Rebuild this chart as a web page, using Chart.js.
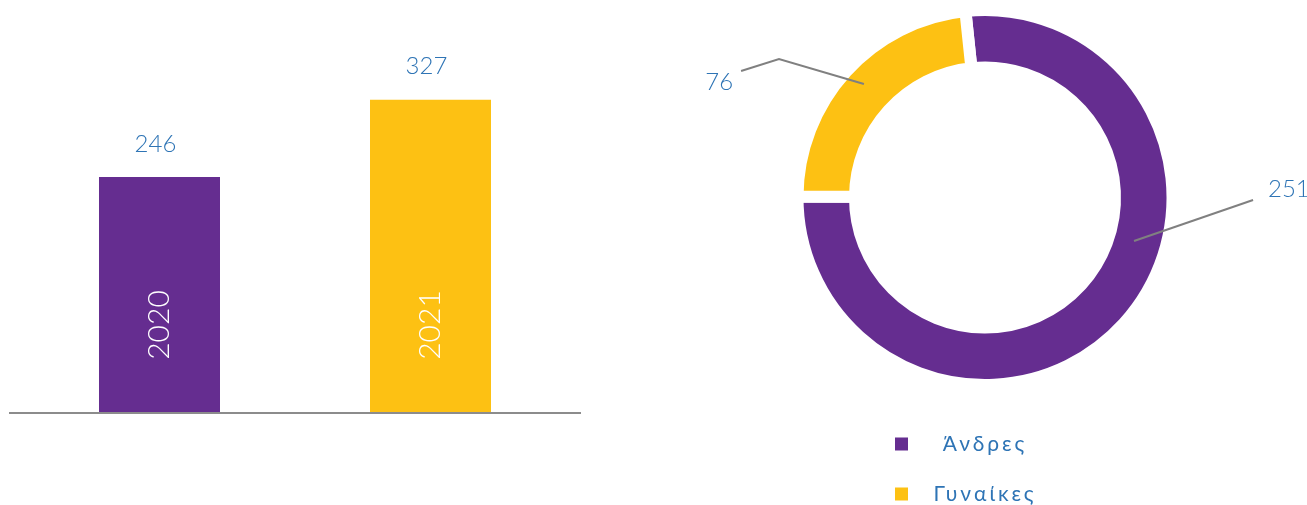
<!DOCTYPE html>
<html><head><meta charset="utf-8">
<script src="https://cdn.jsdelivr.net/npm/chart.js@4"></script>
<style>
html,body{margin:0;padding:0;background:#fff;width:1307px;height:505px;overflow:hidden}
#barWrap{position:absolute;left:0;top:0;width:600px;height:505px}
#pieWrap{position:absolute;left:600px;top:0;width:707px;height:505px}
</style></head><body>
<div id="barWrap"><canvas id="bar" width="600" height="505"></canvas></div>
<div id="pieWrap"><canvas id="pie" width="707" height="505"></canvas></div>
<script>
// ---- data ----
const years = ['2020', '2021'];
const employees = [246, 327];
const genders = ['Άνδρες', 'Γυναίκες'];
const genderCounts = [251, 76];

// ---- styles ----
const PURPLE = '#652D90';
const YELLOW = '#FDC113';
const BLUE = '#2E74B5';
const GREY = '#808080';
const FONT = "Lato, 'Noto Sans', sans-serif";

const barPlugin = {
  id: 'barLabels',
  afterDatasetsDraw(chart) {
    const ctx = chart.ctx;
    const a = chart.chartArea;
    const meta = chart.getDatasetMeta(0);
    ctx.save();
    ctx.strokeStyle = '#8c8c8c';
    ctx.lineWidth = 2;
    ctx.beginPath();
    ctx.moveTo(a.left - 15, a.bottom + 1);
    ctx.lineTo(a.right + 15, a.bottom + 1);
    ctx.stroke();
    meta.data.forEach((bar, i) => {
      ctx.fillStyle = BLUE;
      ctx.font = '300 24px ' + FONT;
      ctx.textAlign = 'center';
      ctx.textBaseline = 'middle';
      ctx.fillText(String(employees[i]), bar.x - 4, bar.y - 33);
      ctx.save();
      ctx.translate(bar.x, bar.base - 87);
      ctx.rotate(-Math.PI / 2);
      ctx.fillStyle = '#ffffff';
      ctx.font = '300 30px ' + FONT;
      ctx.fillText(years[i], 0, 0);
      ctx.restore();
    });
    ctx.restore();
  }
};

new Chart(document.getElementById('bar'), {
  type: 'bar',
  data: {
    labels: years,
    datasets: [{
      data: employees,
      backgroundColor: [PURPLE, YELLOW],
      borderWidth: 0,
      categoryPercentage: 1,
      barPercentage: 0.4465
    }]
  },
  options: {
    responsive: false,
    animation: false,
    devicePixelRatio: 1,
    layout: { padding: { left: 24, right: 34, top: 30, bottom: 93 } },
    scales: {
      x: { display: false },
      y: { display: false, min: 0, max: 400 }
    },
    plugins: { legend: { display: false }, tooltip: { enabled: false } }
  },
  plugins: [barPlugin]
});

const RING_BORDER = 12;
// leader-line geometry, in units of the visible outer radius, relative to the doughnut centre
const leaders = [
  { pts: [[0.821, 0.240], [1.477, 0.014]], label: [1.559, -0.047], align: 'left' },
  { pts: [[-0.667, -0.625], [-1.135, -0.763], [-1.344, -0.697]], label: [-1.388, -0.636], align: 'right' }
];

const piePlugin = {
  id: 'pieLabels',
  afterDraw(chart) {
    const ctx = chart.ctx;
    const meta = chart.getDatasetMeta(0);
    const arc0 = meta.data[0];
    const cx = arc0.x, cy = arc0.y;
    const R = arc0.outerRadius - RING_BORDER / 2;
    ctx.save();
    leaders.forEach((L, i) => {
      ctx.strokeStyle = GREY;
      ctx.lineWidth = 2;
      ctx.beginPath();
      L.pts.forEach((p, k) => {
        const x = cx + p[0] * R, y = cy + p[1] * R;
        if (k === 0) ctx.moveTo(x, y); else ctx.lineTo(x, y);
      });
      ctx.stroke();
      ctx.fillStyle = BLUE;
      ctx.font = '300 24px ' + FONT;
      ctx.textAlign = L.align;
      ctx.textBaseline = 'middle';
      ctx.fillText(String(genderCounts[i]), cx + L.label[0] * R, cy + L.label[1] * R);
    });
    genders.forEach((g, i) => {
      const y = cy + 246.5 + i * 50;
      ctx.fillStyle = meta.data[i].options.backgroundColor;
      ctx.fillRect(cx - 90, y - 6.5, 13, 13);
      ctx.fillStyle = BLUE;
      ctx.font = '400 21px ' + FONT;
      ctx.letterSpacing = '3px';
      ctx.textAlign = 'center';
      ctx.textBaseline = 'middle';
      ctx.fillText(g, cx, y);
    });
    ctx.restore();
  }
};

new Chart(document.getElementById('pie'), {
  type: 'doughnut',
  data: {
    labels: genders,
    datasets: [{
      data: genderCounts,
      backgroundColor: [PURPLE, YELLOW],
      borderColor: '#ffffff',
      borderWidth: RING_BORDER,
      borderAlign: 'center'
    }]
  },
  options: {
    responsive: false,
    animation: false,
    devicePixelRatio: 1,
    rotation: -6,
    radius: 187.5,
    cutout: '69.33%',
    layout: { padding: { left: 100, right: 37, top: 2, bottom: 112 } },
    plugins: { legend: { display: false }, tooltip: { enabled: false } }
  },
  plugins: [piePlugin]
});
</script>
</body></html>
